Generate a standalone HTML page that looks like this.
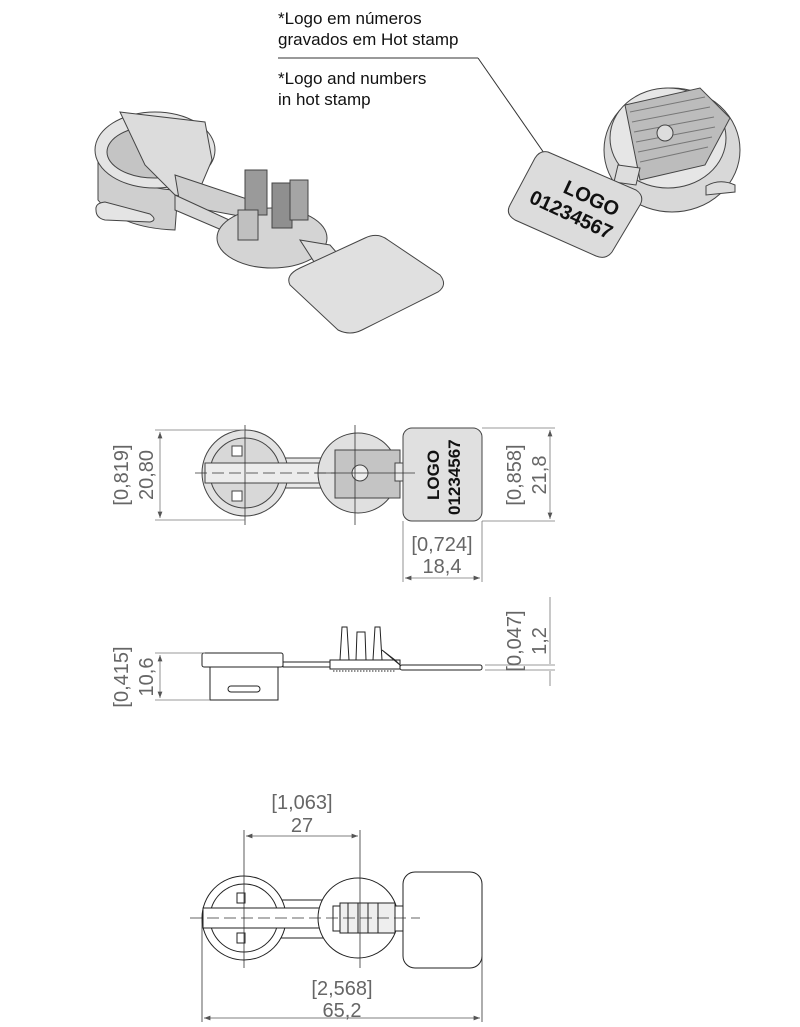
<!DOCTYPE html>
<html><head><meta charset="utf-8"><style>
html,body{margin:0;padding:0;background:#fff;}
svg{display:block;}
.lbl{font-family:"Comic Sans MS","Liberation Sans",sans-serif;font-size:17px;fill:#111;}
.dim{font-family:"Liberation Sans",sans-serif;font-size:20px;fill:#666;}
</style></head><body>
<svg width="800" height="1027" viewBox="0 0 800 1027" xmlns="http://www.w3.org/2000/svg">
<defs>
<marker id="a" markerWidth="8" markerHeight="6" refX="8" refY="3" orient="auto-start-reverse"><path d="M0,0 L8,3 L0,6 z" fill="#555"/></marker>
</defs>
<text class="lbl" x="278" y="24">*Logo em números</text>
<text class="lbl" x="278" y="45">gravados em Hot stamp</text>
<line x1="278" y1="58" x2="478" y2="58" stroke="#333" stroke-width="1"/>
<line x1="478" y1="58" x2="560" y2="176" stroke="#333" stroke-width="1"/>
<text class="lbl" x="278" y="84">*Logo and numbers</text>
<text class="lbl" x="278" y="105">in hot stamp</text>

<!-- 3D left -->
<g stroke="#444" stroke-width="1" fill="#d4d4d4">
<path d="M98,150 L98,200 Q120,228 175,230 L178,190 Q130,190 98,150 Z" fill="#cfcfcf"/>
<path d="M96,210 Q95,203 105,202 L150,214 Q158,220 150,222 L105,220 Q96,218 96,210 Z" fill="#e4e4e4"/>
<ellipse cx="155" cy="150" rx="60" ry="38" fill="#e4e4e4"/>
<ellipse cx="155" cy="152" rx="48" ry="26" fill="#c4c4c4"/>
<path d="M120,112 L205,122 L212,160 L195,200 L175,195 L145,165 Z" fill="#dcdcdc"/>
<path d="M175,175 L250,200 L250,218 L180,205 Z" fill="#cfcfcf"/>
<path d="M175,195 L240,225 L245,240 L175,210 Z" fill="#d8d8d8"/>
<ellipse cx="272" cy="238" rx="55" ry="30" fill="#d4d4d4"/>
<rect x="245" y="170" width="22" height="45" fill="#9a9a9a"/>
<rect x="272" y="183" width="20" height="45" fill="#8f8f8f"/>
<rect x="290" y="180" width="18" height="40" fill="#a5a5a5"/>
<rect x="238" y="210" width="20" height="30" fill="#c0c0c0"/>
<path d="M300,240 L330,245 L345,262 L318,268 Z" fill="#ddd"/>
<path d="M290,285 Q285,275 300,268 L365,238 Q378,232 388,240 L440,275 Q448,285 438,292 L362,330 Q350,336 338,330 Z" fill="#e0e0e0"/>
</g>

<!-- 3D right -->
<g stroke="#444" stroke-width="1">
<ellipse cx="672" cy="150" rx="68" ry="62" fill="#d8d8d8"/>
<ellipse cx="668" cy="138" rx="58" ry="50" fill="#e6e6e6"/>
<path d="M625,105 L700,88 L730,118 L705,165 L640,180 Z" fill="#bcbcbc"/>
<g stroke="#777">
<line x1="630" y1="112" x2="705" y2="97"/><line x1="632" y1="122" x2="710" y2="107"/>
<line x1="634" y1="132" x2="714" y2="117"/><line x1="636" y1="142" x2="715" y2="127"/>
<line x1="638" y1="152" x2="712" y2="137"/><line x1="640" y1="162" x2="708" y2="147"/>
</g>
<circle cx="665" cy="133" r="8" fill="#ddd"/>
<path d="M706,186 Q720,178 735,185 L735,192 L706,195 Z" fill="#ddd"/>
<path d="M618,165 L640,168 L636,185 L614,182 Z" fill="#ddd"/>
<path d="M548,152 L636,190 Q645,196 640,205 L612,252 Q606,260 596,256 L515,220 Q505,214 510,205 L535,158 Q540,150 548,152 Z" fill="#dcdcdc"/>
</g>
<g font-family="Liberation Sans,sans-serif" font-weight="bold" fill="#111">
<text x="562" y="192" font-size="20" transform="rotate(25 562 192)">LOGO</text>
<text x="528" y="202" font-size="20" transform="rotate(25 528 202)">01234567</text>
</g>

<!-- TOP VIEW -->
<g stroke="#444" stroke-width="1" fill="#e2e2e2">
<rect x="280" y="458" width="52" height="30" fill="#e8e8e8"/>
<circle cx="245" cy="473" r="43"/>
<circle cx="245" cy="473" r="35" fill="#d8d8d8"/>
<rect x="205" y="463" width="130" height="20" fill="#ececec"/>
<rect x="232" y="446" width="10" height="10" fill="#fff"/>
<rect x="232" y="491" width="10" height="10" fill="#fff"/>
<circle cx="358" cy="473" r="40" fill="#e0e0e0"/>
<rect x="335" y="450" width="65" height="48" fill="#c4c4c4"/>
<rect x="395" y="463" width="20" height="18" fill="#e8e8e8"/>
<circle cx="360" cy="473" r="8" fill="#eee"/>
<rect x="403" y="428" width="79" height="93" rx="9" fill="#e0e0e0"/>
</g>
<g stroke="#333" stroke-width="0.8">
<line x1="245" y1="425" x2="245" y2="525"/><line x1="195" y1="473" x2="335" y2="473" stroke-dasharray="12,5"/>
<line x1="355" y1="425" x2="355" y2="525"/><line x1="315" y1="473" x2="415" y2="473"/>
</g>
<g font-family="Liberation Sans,sans-serif" font-weight="bold" fill="#111" font-size="17">
<text transform="translate(439,500) rotate(-90)">LOGO</text>
<text transform="translate(460,515) rotate(-90)">01234567</text>
</g>
<g stroke="#777" stroke-width="0.8">
<line x1="155" y1="430" x2="245" y2="430"/><line x1="155" y1="520" x2="245" y2="520"/>
<line x1="160" y1="432" x2="160" y2="518" marker-start="url(#a)" marker-end="url(#a)"/>
<line x1="482" y1="428" x2="555" y2="428"/><line x1="482" y1="521" x2="555" y2="521"/>
<line x1="550" y1="430" x2="550" y2="519" marker-start="url(#a)" marker-end="url(#a)"/>
<line x1="403" y1="521" x2="403" y2="582"/><line x1="482" y1="521" x2="482" y2="582"/>
<line x1="405" y1="578" x2="480" y2="578" marker-start="url(#a)" marker-end="url(#a)"/>
</g>
<text class="dim" transform="translate(128,475) rotate(-90)" text-anchor="middle">[0,819]</text>
<text class="dim" transform="translate(153,475) rotate(-90)" text-anchor="middle">20,80</text>
<text class="dim" transform="translate(521,475) rotate(-90)" text-anchor="middle">[0,858]</text>
<text class="dim" transform="translate(546,475) rotate(-90)" text-anchor="middle">21,8</text>
<text class="dim" x="442" y="551" text-anchor="middle">[0,724]</text>
<text class="dim" x="442" y="573" text-anchor="middle">18,4</text>

<!-- SIDE VIEW -->
<g stroke="#222" stroke-width="1" fill="#fff">
<rect x="210" y="667" width="68" height="33"/>
<rect x="228" y="686" width="32" height="6" rx="3"/>
<rect x="202" y="653" width="81" height="14" rx="2"/>
<rect x="283" y="662" width="50" height="5"/>
<rect x="330" y="660" width="70" height="9"/>
<path d="M340,660 L342,627 L347,627 L349,660 Z"/>
<path d="M356,660 L357,632 L365,632 L366,660 Z"/>
<path d="M373,660 L375,627 L380,627 L382,660 Z"/>
<path d="M382,650 L395,660 L400,665 Z"/>
<rect x="400" y="665" width="82" height="5" rx="2"/>
<line x1="333" y1="671" x2="395" y2="671" stroke-dasharray="1.5,1.5"/>
</g>
<g stroke="#777" stroke-width="0.8">
<line x1="155" y1="653" x2="205" y2="653"/><line x1="155" y1="700" x2="210" y2="700"/>
<line x1="160" y1="655" x2="160" y2="698" marker-start="url(#a)" marker-end="url(#a)"/>
<line x1="485" y1="665" x2="555" y2="665"/><line x1="485" y1="670" x2="555" y2="670"/>
<line x1="550" y1="597" x2="550" y2="664"/><line x1="550" y1="671" x2="550" y2="686"/>
</g>
<text class="dim" transform="translate(128,677) rotate(-90)" text-anchor="middle">[0,415]</text>
<text class="dim" transform="translate(153,677) rotate(-90)" text-anchor="middle">10,6</text>
<text class="dim" transform="translate(521,641) rotate(-90)" text-anchor="middle">[0,047]</text>
<text class="dim" transform="translate(546,641) rotate(-90)" text-anchor="middle">1,2</text>

<!-- BOTTOM VIEW -->
<g stroke="#222" stroke-width="1" fill="#fff">
<rect x="280" y="900" width="75" height="38"/>
<circle cx="244" cy="918" r="42"/>
<circle cx="244" cy="918" r="34"/>
<rect x="203" y="908" width="135" height="20"/>
<rect x="237" y="893" width="8" height="10"/><rect x="237" y="933" width="8" height="10"/>
<circle cx="358" cy="918" r="40"/>
<rect x="333" y="906" width="77" height="25"/>
<rect x="340" y="903" width="55" height="30" fill="#eee"/>
<g stroke="#222"><line x1="348" y1="903" x2="348" y2="933"/><line x1="358" y1="903" x2="358" y2="933"/><line x1="368" y1="903" x2="368" y2="933"/><line x1="378" y1="903" x2="378" y2="933"/></g>
<rect x="403" y="872" width="79" height="96" rx="12"/>
</g>
<g stroke="#333" stroke-width="0.8">
<line x1="190" y1="918" x2="420" y2="918" stroke-dasharray="12,5"/>
<line x1="244" y1="830" x2="244" y2="968"/>
<line x1="360" y1="830" x2="360" y2="968"/>
<line x1="202" y1="920" x2="202" y2="1022"/><line x1="482" y1="920" x2="482" y2="1022"/>
<line x1="246" y1="836" x2="358" y2="836" stroke="#555" marker-start="url(#a)" marker-end="url(#a)"/>
<line x1="204" y1="1018" x2="480" y2="1018" stroke="#555" marker-start="url(#a)" marker-end="url(#a)"/>
</g>
<text class="dim" x="302" y="809" text-anchor="middle">[1,063]</text>
<text class="dim" x="302" y="832" text-anchor="middle">27</text>
<text class="dim" x="342" y="995" text-anchor="middle">[2,568]</text>
<text class="dim" x="342" y="1017" text-anchor="middle">65,2</text>
</svg>
</body></html>
